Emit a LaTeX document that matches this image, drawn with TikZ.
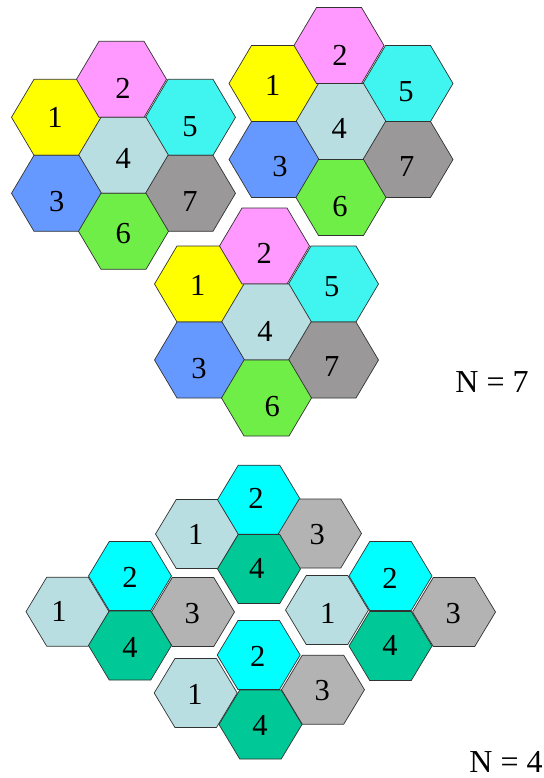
\documentclass[tikz,border=0pt]{standalone}
\usepackage{fontspec}
\setmainfont{Liberation Serif}
\definecolor{cyel}{RGB}{255,255,0}
\definecolor{cpink}{RGB}{255,153,255}
\definecolor{ccyan}{RGB}{64,245,240}
\definecolor{clb}{RGB}{185,222,226}
\definecolor{cblue}{RGB}{102,153,255}
\definecolor{cgreen}{RGB}{112,238,72}
\definecolor{cgray}{RGB}{154,152,152}
\definecolor{fcyan}{RGB}{0,255,255}
\definecolor{fgray}{RGB}{179,179,179}
\definecolor{fteal}{RGB}{0,200,150}
\definecolor{hexedge}{RGB}{50,50,50}
% hexagon with half-width #3 and half-height #4, centre (#1,#2), fill #5
\newcommand\hexcell[5]{%
  \filldraw[hexline, fill=#5] (#1-#3,#2) -- (#1-#3/2,#2-#4) -- (#1+#3/2,#2-#4)
    -- (#1+#3,#2) -- (#1+#3/2,#2+#4) -- (#1-#3/2,#2+#4) -- cycle;}
\newcommand\hexS[3]{\hexcell{#1}{#2}{45}{38}{#3}}
\newcommand\hexF[3]{\hexcell{#1}{#2}{41.5}{34.5}{#3}}
% N=7 cluster around (#1,#2)
\newcommand\clusterseven[2]{%
  \hexS{#1-67}{#2-38}{cyel}
  \hexS{#1-2}{#2-76}{cpink}
  \hexS{#1+67}{#2-38}{ccyan}
  \hexS{#1}{#2}{clb}
  \hexS{#1-67}{#2+38}{cblue}
  \hexS{#1+67}{#2+38}{cgray}
  \hexS{#1}{#2+76}{cgreen}}
\begin{document}
\begin{tikzpicture}[x=1pt,y=-1pt,
  hexline/.style={draw=hexedge, line width=0.7pt, line join=miter},
  lab/.style={font=\fontsize{30.5}{30.5}\selectfont, inner sep=0pt},
  biglab/.style={font=\fontsize{32}{32}\selectfont, inner sep=0pt}]
\useasboundingbox (0,0) rectangle (543,778);

% ---------- N = 7 ----------
\clusterseven{123.5}{155.3}
\clusterseven{341}{121.5}
\clusterseven{266.5}{322}

\node[lab] (a1) at (55,117.7) {1};
\node[lab] (a2) at (123,88.3) {2};
\node[lab] (a3) at (56.7,201.7) {3};
\node[lab] (a4) at (123.3,158.3) {4};
\node[lab] (a5) at (190,126.7) {5};
\node[lab] (a6) at (123.3,233.3) {6};
\node[lab] (a7) at (190,201.7) {7};

\node[lab] (b1) at (272.7,85) {1};
\node[lab] (b2) at (340,55) {2};
\node[lab] (b3) at (280,166.7) {3};
\node[lab] (b4) at (339.3,128.3) {4};
\node[lab] (b5) at (406,91.7) {5};
\node[lab] (b6) at (340,206.7) {6};
\node[lab] (b7) at (406.7,166.7) {7};

\node[lab] (c1) at (197.7,285) {1};
\node[lab] (c2) at (264.3,253.3) {2};
\node[lab] (c3) at (199,368.3) {3};
\node[lab] (c4) at (265,331.7) {4};
\node[lab] (c5) at (331.7,286.7) {5};
\node[lab] (c6) at (272.3,406.7) {6};
\node[lab] (c7) at (331.7,366.7) {7};

\node[biglab] (n7) at (492,382) {N = 7};

% ---------- N = 4 ----------
\hexF{197}{534}{clb}
\hexF{259}{499.7}{fcyan}
\hexF{320}{533.5}{fgray}
\hexF{259}{569}{fteal}

\hexF{67.5}{611.7}{clb}
\hexF{130}{576}{fcyan}
\hexF{193}{612}{fgray}
\hexF{130}{645.5}{fteal}

\hexF{327}{610}{clb}
\hexF{390.5}{576}{fcyan}
\hexF{454}{612}{fgray}
\hexF{390.5}{646}{fteal}

\hexF{195.7}{693}{clb}
\hexF{258.7}{655}{fcyan}
\hexF{323}{689.7}{fgray}
\hexF{260.5}{724.5}{fteal}

\node[lab] (d1) at (195.7,534.3) {1};
\node[lab] (d2) at (256,498.3) {2};
\node[lab] (d3) at (317.3,535) {3};
\node[lab] (d4) at (256.7,568.3) {4};

\node[lab] (e1) at (59,611.7) {1};
\node[lab] (e2) at (130,577.7) {2};
\node[lab] (e3) at (192.3,614) {3};
\node[lab] (e4) at (130,647.7) {4};

\node[lab] (f1) at (327.7,613.3) {1};
\node[lab] (f2) at (390,578.3) {2};
\node[lab] (f3) at (453.3,614) {3};
\node[lab] (f4) at (390,645) {4};

\node[lab] (g1) at (195,694) {1};
\node[lab] (g2) at (257.7,656.7) {2};
\node[lab] (g3) at (322.3,691) {3};
\node[lab] (g4) at (260,725) {4};

\node[biglab] (n4) at (506,762) {N = 4};
\end{tikzpicture}
\end{document}
